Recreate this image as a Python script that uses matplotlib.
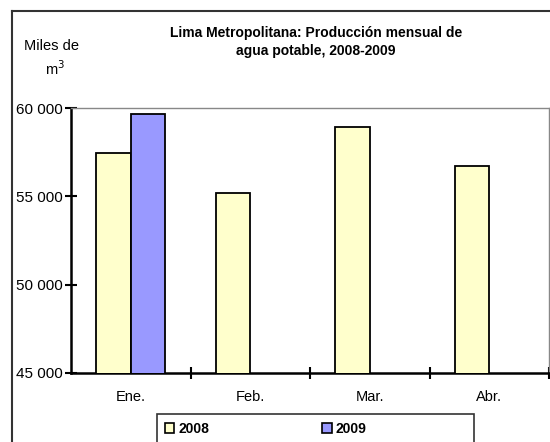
import matplotlib
matplotlib.use("Agg")
import matplotlib.pyplot as plt
from matplotlib.patches import Patch, Rectangle
from matplotlib.lines import Line2D
import numpy as np

plt.rcParams['font.family'] = ['Liberation Sans', 'DejaVu Sans']

categories = ["Ene.", "Feb.", "Mar.", "Abr."]
values_2008 = [57450, 55200, 58920, 56720]
values_2009 = [59660, None, None, None]
series_names = ["2008", "2009"]
ytick_values = [45000, 50000, 55000, 60000]
ytick_labels = ["45 000", "50 000", "55 000", "60 000"]

color_2008 = "#FFFFCC"
color_2009 = "#9999FF"

W, H = 550, 442
fig = plt.figure(figsize=(W / 100, H / 100), dpi=100)
fig.patch.set_facecolor("white")

# outer chart frame (cut off at right/bottom)
fig.add_artist(Line2D([12 / W, 12 / W], [0, 1 - 11 / H], transform=fig.transFigure,
                      color="#333333", lw=1.5))
fig.add_artist(Line2D([12 / W, 1], [1 - 11 / H, 1 - 11 / H], transform=fig.transFigure,
                      color="#333333", lw=1.5))

ax = fig.add_axes([71 / W, (H - 373) / H, (549 - 71) / W, (373 - 108) / H])

x = np.arange(len(categories))
bw = 0.29
ax.bar(x - bw / 2, values_2008, width=bw, color=color_2008, edgecolor="black",
       linewidth=1.3, label=series_names[0], zorder=3)
v09 = [v if v is not None else np.nan for v in values_2009]
ax.bar(x + bw / 2, v09, width=bw, color=color_2009, edgecolor="black",
       linewidth=1.3, label=series_names[1], zorder=3)

ax.set_xlim(-0.5, len(categories) - 0.5)
ax.set_ylim(45000, 60000)

ax.set_yticks(ytick_values)
ax.set_yticklabels(ytick_labels, fontsize=11)
ax.tick_params(axis="y", direction="inout", length=8, width=1.5, pad=2)

ax.set_xticks(x)
ax.set_xticklabels(categories, fontsize=10.5)
ax.tick_params(axis="x", which="major", length=0, pad=12)
ax.set_xticks(np.arange(len(categories)) + 0.5, minor=True)
ax.tick_params(axis="x", which="minor", direction="inout", length=9, width=1.5)

for s in ["left", "bottom"]:
    ax.spines[s].set_color("black")
    ax.spines[s].set_linewidth(1.8)
for s in ["top", "right"]:
    ax.spines[s].set_color("#888888")
    ax.spines[s].set_linewidth(1.0)

# Title and y-axis unit
fig.text(316 / W, 1 - 42 / H, "Lima Metropolitana: Producción mensual de\nagua potable, 2008-2009",
         ha="center", va="center", fontsize=10, fontweight="bold", linespacing=1.45)
fig.text(51 / W, 1 - 46 / H, "Miles de", ha="center", va="center", fontsize=10.5)
fig.text(55 / W, 1 - 69 / H, "m$^3$", ha="center", va="center", fontsize=10.5)

# Legend frame
fig.add_artist(Rectangle((157 / W, -10 / H), (474 - 157) / W, (442 - 414 + 10) / H,
                         transform=fig.transFigure, facecolor="none", edgecolor="#333333", lw=1.2))
handles = [Patch(facecolor=color_2008, edgecolor="black", lw=1.2),
           Patch(facecolor=color_2009, edgecolor="black", lw=1.2)]
fig.legend(handles, series_names, loc="center left", bbox_to_anchor=(155 / W, 1 - 429 / H),
           ncol=2, frameon=False, prop={"weight": "bold", "size": 10},
           handlelength=0.7, handleheight=0.7, handletextpad=0.3, columnspacing=8.1,
           borderpad=0.2)

fig.savefig("out.png", dpi=100)
